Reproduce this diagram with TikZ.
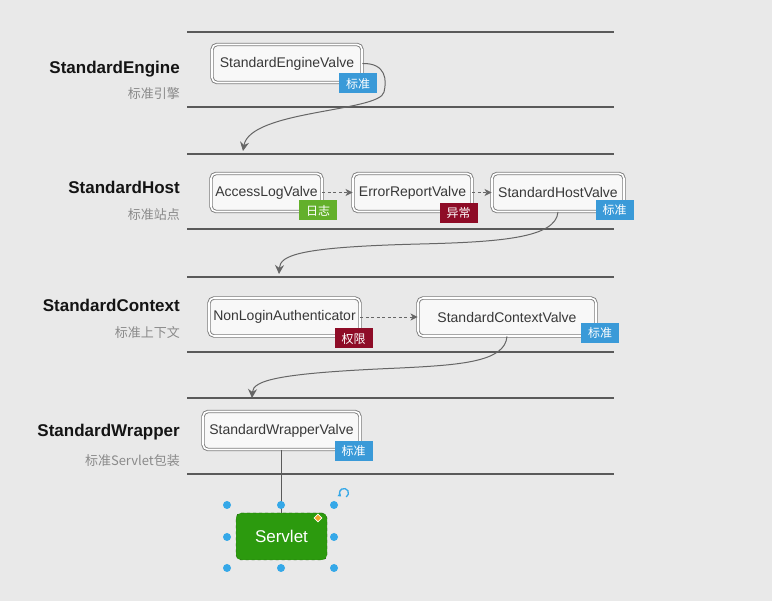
\documentclass[tikz,border=0pt]{standalone}
\usepackage{fontspec}
\setmainfont{Liberation Sans}
\newfontfamily\cjk{Noto Sans CJK SC}
\usetikzlibrary{arrows.meta,positioning,shapes.geometric}
\definecolor{PipeBg}{HTML}{E9E9E9}
\definecolor{PipeLine}{HTML}{5A5A5A}
\definecolor{ValveEdge}{HTML}{7C7C7C}
\definecolor{ValveFill}{HTML}{F8F8F8}
\definecolor{FlowGray}{HTML}{666666}
\definecolor{NoteGray}{HTML}{8A8A8A}
\definecolor{TagBlue}{HTML}{3A9AD8}
\definecolor{TagGreen}{HTML}{63B02B}
\definecolor{TagRed}{HTML}{8E0C27}
\definecolor{ServletGreen}{HTML}{2C9A0E}
\definecolor{HandleBlue}{HTML}{35A8E8}
\definecolor{HandleOrange}{HTML}{F2A626}
\tikzset{
  lane/.style={draw=PipeLine, line width=1.2pt},
  valve/.style={draw=ValveEdge, line width=0.9pt, double=white, double distance=1.6pt,
    fill=ValveFill, rounded corners=5pt, minimum height=38pt, inner sep=0pt,
    text=black!78, font=\fontsize{14}{16}\selectfont},
  tag/.style={text=white, minimum width=38pt, minimum height=20pt, inner sep=0pt,
    font=\cjk\fontsize{12}{14}\selectfont},
  stagename/.style={anchor=east, inner sep=0pt, text=black!92,
    font=\bfseries\fontsize{17}{19}\selectfont},
  stagenote/.style={anchor=east, inner sep=0pt, text=NoteGray,
    font=\cjk\fontsize{13}{15}\selectfont},
  flow/.style={draw=FlowGray, line width=1pt, -{Stealth[length=9pt,width=9pt,inset=3pt]}},
  chain/.style={draw=FlowGray, line width=0.9pt, dash pattern=on 3pt off 2.5pt,
    -{Stealth[length=7pt,width=7pt,inset=2pt]}},
  handle/.style={fill=HandleBlue}
}

\begin{document}
\begin{tikzpicture}[x=1pt, y=-1pt]
  \fill[PipeBg] (0,0) rectangle (772,601);
  \useasboundingbox (0,0) rectangle (772,601);

  % stage lanes
  \foreach \y in {32,107,154,229,277,352,398,474}
    \draw[lane] (187,\y) -- (614,\y);

  % stage names
  \node[stagename] (engineName) at (180,69) {StandardEngine};
  \node[stagenote] (engineNote) at (180,94) {标准引擎};
  \node[stagename] (hostName) at (180,187) {StandardHost};
  \node[stagenote] (hostNote) at (180,215) {标准站点};
  \node[stagename] (contextName) at (180,305) {StandardContext};
  \node[stagenote] (contextNote) at (180,333) {标准上下文};
  \node[stagename] (wrapperName) at (180,432) {StandardWrapper};
  \node[stagenote] (wrapperNote) at (180,461) {标准Servlet包装};

  % valves
  \node[valve, minimum width=150pt] (engineValve) at (287,63.5) {StandardEngineValve};
  \node[valve, minimum width=111pt] (accessValve) at (266.5,192.5) {AccessLogValve};
  \node[valve, minimum width=119pt] (errorValve) at (412.5,192.5) {ErrorReportValve};
  \node[valve, minimum width=132pt] (hostValve) at (558,192.5) {StandardHostValve};
  \node[valve, minimum width=151pt] (loginValve) at (284.5,317) {NonLoginAuthenticator};
  \node[valve, minimum width=178pt] (contextValve) at (507,317) {StandardContextValve};
  \node[valve, minimum width=157pt] (wrapperValve) at (281.5,430.5) {StandardWrapperValve};

  % tags
  \node[tag, fill=TagBlue] (engineTag) at (358,83.5) {标准};
  \node[tag, fill=TagGreen] (accessTag) at (318,210.5) {日志};
  \node[tag, fill=TagRed] (errorTag) at (458.5,213) {异常};
  \node[tag, fill=TagBlue] (hostTag) at (614.5,210) {标准};
  \node[tag, fill=TagRed] (loginTag) at (353.5,338.5) {权限};
  \node[tag, fill=TagBlue] (contextTag) at (600,333) {标准};
  \node[tag, fill=TagBlue] (wrapperTag) at (353.5,451) {标准};

  % servlet
  \node[draw=ServletGreen!60!black, dashed, fill=ServletGreen, rounded corners=5pt,
    minimum width=91pt, minimum height=47pt, text=white,
    font=\fontsize{17}{19}\selectfont] (servlet) at (281.5,536.5) {Servlet};

  % pipeline flow
  \draw[chain] (accessValve) -- (errorValve);
  \draw[chain] (errorValve) -- (hostValve);
  \draw[chain] (loginValve) -- (contextValve);
  \coordinate (hostIn) at (243,151);
  \coordinate (contextIn) at (279,274);
  \coordinate (wrapperIn) at (252,398);
  \draw[flow] (engineValve.east) .. controls (386,63) and (387,80) .. (384,92)
    .. controls (380,112) and (250,110) .. (hostIn);
  \draw[flow] (hostValve.south) .. controls (556,238) and (500,242) .. (420,244)
    .. controls (300,247) and (280,255) .. (contextIn);
  \draw[flow] (contextValve.south) .. controls (505,362) and (460,365) .. (400,368)
    .. controls (280,373) and (253,380) .. (wrapperIn);
  \draw[PipeLine, line width=1pt] (wrapperValve.south -| servlet.north) -- (servlet.north);

  % selection handles
  \foreach \hx/\hy in {227/505,281/505,334/505,227/537,334/537,227/568,281/568,334/568}
    \fill[handle] (\hx,\hy) circle (4pt);
  \node[diamond, fill=HandleOrange, draw=white, line width=0.6pt, inner sep=0pt,
    minimum size=8pt] (resizeMark) at (318,518) {};
  \draw[HandleBlue, line width=1.3pt, -{Triangle[length=3pt,width=4pt]}]
    (344,493) ++(60:4.5) arc[start angle=60, end angle=-230, radius=4.5];
\end{tikzpicture}
\end{document}
